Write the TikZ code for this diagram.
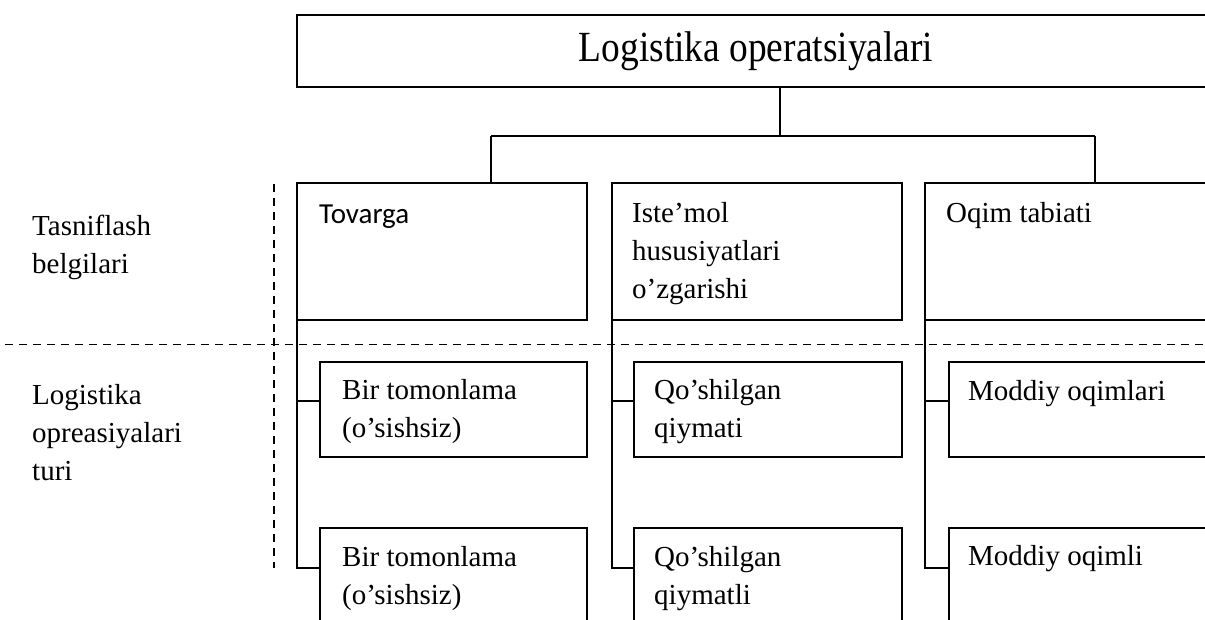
\documentclass[tikz,border=0pt]{standalone}
\usepackage{fontspec}
\usepackage{graphicx}
\setmainfont{Liberation Serif}
\newfontfamily\calib{Carlito}
\usetikzlibrary{calc}
\begin{document}
\begin{tikzpicture}[x=1pt,y=-1pt,
  bx/.style={draw, line width=1.2pt, inner sep=0pt, outer sep=0pt, anchor=north west},
  txt/.style={anchor=base west, align=left, inner sep=0pt, font=\fontsize{29}{38}\selectfont},
  dsh/.style={dash pattern=on 8pt off 6pt, line width=1.2pt},
  ln/.style={line width=1.2pt}]
\useasboundingbox (0,0) rectangle (1205,619);
\clip (0,0) rectangle (1205,619);
% top box
\node[bx, minimum width=1000pt, minimum height=72pt] (T) at (297,15) {};
\node[anchor=base, inner sep=0pt, font=\fontsize{43}{50}\selectfont] (Tt) at (756,61) {\scalebox{0.87}[1]{Logistika operatsiyalari}};
% classification boxes
\node[bx, minimum width=290pt, minimum height=137pt] (A) at (297,183) {};
\node[bx, minimum width=290pt, minimum height=137pt] (B) at (612,183) {};
\node[bx, minimum width=300pt, minimum height=137pt] (C) at (925,183) {};
\node[txt, font=\calib\fontsize{29}{38}\selectfont] (At) at (319,223) {Tovarga};
\node[txt] (Bt) at (632,298) {Iste’mol\\hususiyatlari\\o’zgarishi};
\node[txt] (Ct) at (946,222) {Oqim tabiati};
% sub boxes row 1
\node[bx, minimum width=267pt, minimum height=95pt] (a1) at (320,362) {};
\node[bx, minimum width=268pt, minimum height=95pt] (b1) at (634,362) {};
\node[bx, minimum width=290pt, minimum height=95pt] (c1) at (949,362) {};
\node[txt] (a1t) at (342,437) {Bir tomonlama\\(o’sishsiz)};
\node[txt] (b1t) at (654,437) {Qo’shilgan\\qiymati};
\node[txt] (c1t) at (968,400) {Moddiy oqimlari};
% sub boxes row 2
\node[bx, minimum width=267pt, minimum height=120pt] (a2) at (320,528) {};
\node[bx, minimum width=268pt, minimum height=120pt] (b2) at (634,528) {};
\node[bx, minimum width=290pt, minimum height=120pt] (c2) at (949,528) {};
\node[txt] (a2t) at (342,604) {Bir tomonlama\\(o’sishsiz)};
\node[txt] (b2t) at (654,604) {Qo’shilgan\\qiymatli};
\node[txt] (c2t) at (968,565) {Moddiy oqimli};
% left labels
\node[txt] (L1) at (32,273) {Tasniflash\\belgilari};
\node[txt] (L2) at (32,480) {Logistika\\opreasiyalari\\turi};
% connectors
\coordinate (J) at (780,136);
\coordinate (HL) at (491,136);
\coordinate (HR) at (1095,136);
\draw[ln] (T.south -| J) -- (J);
\draw[ln] (HL) -- (HR);
\draw[ln] (HL) -- (HL |- A.north);
\draw[ln] (HR) -- (HR |- C.north);
\foreach \P/\p/\q in {A/a1/a2, B/b1/b2, C/c1/c2}{
  \draw[ln] (\P.south west) |- ($(\p.north west)+(0,39)$);
  \draw[ln] (\P.south west) |- ($(\q.north west)+(0,40)$);
}
% dashed separators
\coordinate (DL) at (5,344.5);
\coordinate (DR) at (1205,344.5);
\coordinate (DT) at (274,184);
\coordinate (DB) at (274,568);
\draw[dsh] (DL) -- (DR);
\draw[dsh] (DT) -- (DB);
\end{tikzpicture}
\end{document}
